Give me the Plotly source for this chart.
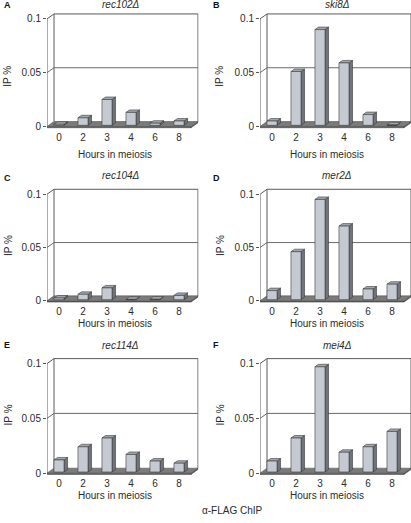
import plotly.graph_objects as go

# ---------------- data ----------------
hours = ["0", "2", "3", "4", "6", "8"]
panel_letters = ["A", "B", "C", "D", "E", "F"]
strains = ["rec102Δ", "ski8Δ", "rec104Δ", "mer2Δ", "rec114Δ", "mei4Δ"]
rec102 = [0.001, 0.007, 0.024, 0.012, 0.002, 0.004]
ski8 = [0.004, 0.050, 0.089, 0.058, 0.010, 0.0005]
rec104 = [0.0015, 0.005, 0.011, 0.0003, 0.0005, 0.004]
mer2 = [0.0085, 0.045, 0.094, 0.069, 0.010, 0.0145]
rec114 = [0.011, 0.023, 0.031, 0.016, 0.010, 0.008]
mei4 = [0.010, 0.031, 0.096, 0.018, 0.023, 0.037]
y_tickvals = [0, 0.05, 0.1]
y_ticktext = ["0", "0.05", "0.1"]
x_title = "Hours in meiosis"
y_title = "IP %"
footer = "α-FLAG ChIP"

series = [rec102, ski8, rec104, mer2, rec114, mei4]

# ---------------- geometry / style ----------------
W, H = 411, 523
FONT = "Liberation Sans, Arial, sans-serif"
TXT = "#2b2b2b"
col_left = [47, 260]
px_cat = 24.0
row_y0 = [127, 302, 475]
row_scale = [1080, 1070, 1100]
depth_px = (7.0, 5.0)
bar_w = 0.42
bar_depth_px = (3.5, 2.5)
base_px = 1.2
title_x = [121, 337]
title_y = [5, 176, 347]
letter_x = [2, 211]
letter_y = [5, 179, 346]
xtitle_x = [115, 327]
xtitle_y = [155, 325, 497]
ytitle_x = [8, 220]
ytitle_y = [77, 247, 417]

FRONT = "#c5c9d1"
SIDE = "#6f737b"
TOP = "#a3a7af"
EDGE = "#3a3a3a"
FLOOR = "#7b7b7b"

fig = go.Figure()
annotations = []


def px2x(p):
    return p / W


def px2y(p):
    return 1 - p / H


for k, vals in enumerate(series):
    r, c = k // 2, k % 2
    s = row_scale[r]
    y0 = row_y0[r]
    D = depth_px[0] / px_cat
    dyb = depth_px[1] / s
    xr = [-0.5, 5.5 + D + 0.02]
    yr = [-0.003, 0.1 + dyb + 0.002]
    xd = [px2x(col_left[c]), min(1.0, px2x(col_left[c] + (xr[1] - xr[0]) * px_cat))]
    xr[1] = xr[0] + (xd[1] * W - col_left[c]) / px_cat
    yd = [px2y(y0 - yr[0] * s), px2y(y0 - yr[1] * s)]
    n = k + 1
    xa = "x" if n == 1 else f"x{n}"
    ya = "y" if n == 1 else f"y{n}"
    xkey = "xaxis" if n == 1 else f"xaxis{n}"
    ykey = "yaxis" if n == 1 else f"yaxis{n}"

    fig.update_layout(**{
        xkey: dict(domain=xd, range=xr, anchor=ya, tickmode="array",
                   tickvals=list(range(len(hours))), ticktext=hours,
                   showgrid=False, zeroline=False, showline=False, ticks="",
                   tickfont=dict(size=10, color=TXT, family=FONT), fixedrange=True),
        ykey: dict(domain=yd, range=yr, anchor=xa, tickmode="array",
                   tickvals=y_tickvals, ticktext=y_ticktext,
                   showgrid=False, zeroline=False, showline=False,
                   ticks="outside", ticklen=3, tickcolor="#555", tickwidth=1,
                   tickfont=dict(size=10, color=TXT, family=FONT), fixedrange=True),
    })

    x_lo, x_hi = -0.5, 5.5
    th = 1.2 / s
    # floor slab front + side
    fig.add_trace(go.Scatter(
        x=[x_lo, x_hi, x_hi, x_lo, x_lo, None,
           x_hi, x_hi + D, x_hi + D, x_hi, x_hi],
        y=[0, 0, -th, -th, 0, None,
           0, dyb, dyb - th, -th, 0],
        xaxis=xa, yaxis=ya, mode="lines", fill="toself",
        fillcolor="#5a5a5a", line=dict(color="#4a4a4a", width=0.6),
        hoverinfo="skip"))
    # floor top
    fig.add_trace(go.Scatter(
        x=[x_lo, x_hi, x_hi + D, x_lo + D, x_lo],
        y=[0, 0, dyb, dyb, 0],
        xaxis=xa, yaxis=ya, mode="lines", fill="toself",
        fillcolor=FLOOR, line=dict(color="#555", width=0.6),
        hoverinfo="skip"))

    # walls: back wall frame and side wall edges
    fig.add_trace(go.Scatter(
        x=[x_lo + D, x_lo + D, x_hi + D, x_hi + D, None,
           x_lo, x_lo, None,
           x_lo, x_lo + D, None],
        y=[dyb, 0.1 + dyb, 0.1 + dyb, dyb, None,
           0, 0.1, None,
           0.1, 0.1 + dyb, None],
        xaxis=xa, yaxis=ya, mode="lines",
        line=dict(color="#5a5a5a", width=1), hoverinfo="skip"))
    fig.add_trace(go.Scatter(
        x=[x_lo, x_lo + D, x_hi + D],
        y=[0.05, 0.05 + dyb, 0.05 + dyb],
        xaxis=xa, yaxis=ya, mode="lines",
        line=dict(color="#6a6a6a", width=1), hoverinfo="skip"))

    # bars
    bx = bar_depth_px[0] / px_cat
    by = bar_depth_px[1] / s
    b0 = base_px / s
    fx, fy, sx, sy, tx, ty = [], [], [], [], [], []
    for i, v in enumerate(vals):
        x0, x1 = i - bar_w / 2, i + bar_w / 2
        top = b0 + v
        fx += [x0, x1, x1, x0, x0, None]
        fy += [b0, b0, top, top, b0, None]
        sx += [x1, x1 + bx, x1 + bx, x1, x1, None]
        sy += [b0, b0 + by, top + by, top, b0, None]
        tx += [x0, x1, x1 + bx, x0 + bx, x0, None]
        ty += [top, top, top + by, top + by, top, None]
    for px_, py_, col in [(sx, sy, SIDE), (tx, ty, TOP), (fx, fy, FRONT)]:
        fig.add_trace(go.Scatter(
            x=px_, y=py_, xaxis=xa, yaxis=ya, mode="lines", fill="toself",
            fillcolor=col, line=dict(color=EDGE, width=0.6), hoverinfo="skip"))

    # texts
    annotations.append(dict(x=px2x(title_x[c]), y=px2y(title_y[r]), xref="paper", yref="paper",
                            text=f"<i>{strains[k]}</i>", showarrow=False,
                            font=dict(size=10, color=TXT, family=FONT),
                            xanchor="center", yanchor="middle"))
    annotations.append(dict(x=px2x(letter_x[c]), y=px2y(letter_y[r]), xref="paper", yref="paper",
                            text=f"<b>{panel_letters[k]}</b>", showarrow=False,
                            font=dict(size=9, color="#111", family=FONT),
                            xanchor="left", yanchor="middle"))
    annotations.append(dict(x=px2x(xtitle_x[c]), y=px2y(xtitle_y[r]), xref="paper", yref="paper",
                            text=x_title, showarrow=False,
                            font=dict(size=10, color=TXT, family=FONT),
                            xanchor="center", yanchor="middle"))
    annotations.append(dict(x=px2x(ytitle_x[c]), y=px2y(ytitle_y[r]), xref="paper", yref="paper",
                            text=y_title, showarrow=False, textangle=-90,
                            font=dict(size=10, color=TXT, family=FONT),
                            xanchor="center", yanchor="middle"))

annotations.append(dict(x=px2x(232), y=px2y(512), xref="paper", yref="paper",
                        text=footer, showarrow=False,
                        font=dict(size=10, color=TXT, family=FONT),
                        xanchor="center", yanchor="middle"))

fig.update_layout(width=W, height=H, margin=dict(l=0, r=0, t=0, b=0),
                  paper_bgcolor="white", plot_bgcolor="rgba(0,0,0,0)",
                  showlegend=False, annotations=annotations,
                  font=dict(family=FONT, color=TXT))

fig.write_html("out.html", config={"displayModeBar": False},
               post_script="document.body.style.margin='0';document.body.style.overflow='hidden';")
